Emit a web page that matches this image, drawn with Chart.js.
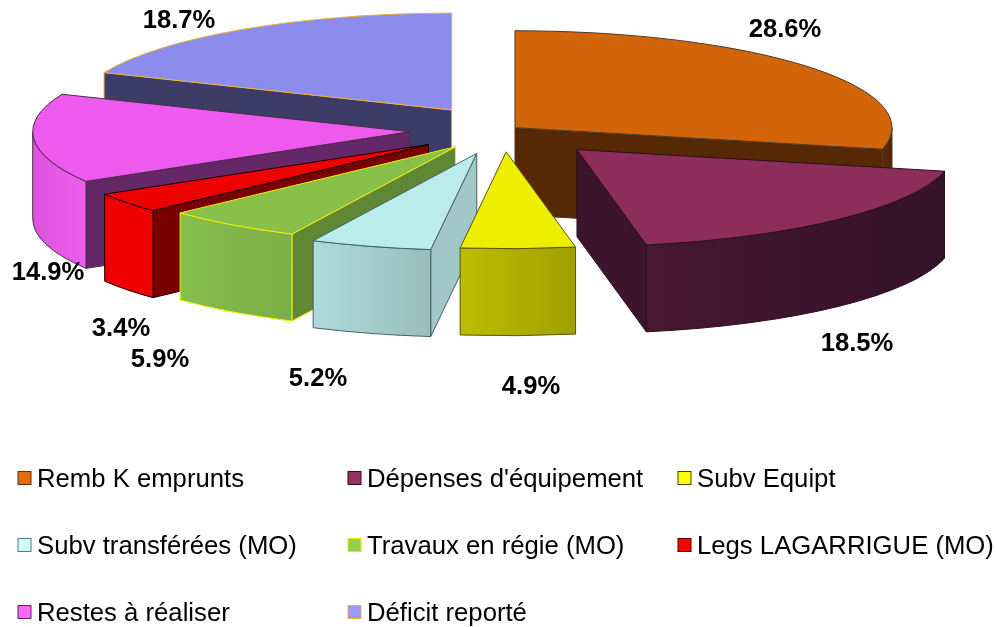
<!DOCTYPE html>
<html>
<head>
<meta charset="utf-8">
<title>Répartition</title>
<script src="https://cdn.jsdelivr.net/npm/chart.js@4/dist/chart.umd.js"></script>
<style>
  html, body { margin: 0; padding: 0; background: #fff; }
  canvas { display: block; }
</style>
</head>
<body>
<canvas id="myChart" width="997" height="627"></canvas>
<script>
const categories = ['Remb K emprunts', "Dépenses d'équipement", 'Subv Equipt', 'Subv transférées (MO)',
  'Travaux en régie (MO)', 'Legs LAGARRIGUE (MO)', 'Restes à réaliser', 'Déficit reporté'];
const values = [28.6, 18.5, 4.9, 5.2, 5.9, 3.4, 14.9, 18.7];

// slice styles
const explode = [14.7, 106, 85, 95, 81, 94, 94, 93.5];
const topColors = ['#D2640A', '#8C2D5C', '#EEEE00', '#BAECEC', '#88C04A', '#EE0000', '#EE5AEE', '#8C8CEC'];
const sideColors = ['#562804', '#3C142C', '#A0A000', '#A1C7C9', '#5F8734', '#780000', '#642868', '#3C3C66'];
const wallFrom = ['#5C2B05', '#47182F', '#BDBD00', '#AFDADA', '#85BF4C', '#EE0000', '#DC55DE', '#3C3C66'];
const wallTo = ['#502504', '#33122A', '#A0A000', '#98BDBD', '#7CAE45', '#EE0000', '#EE5CEE', '#3C3C66'];
const borders = ['#4A3A2A', '#2A0F20', '#55550A', '#4A5F60', '#F2F200', '#1A0000', '#4A2A4A', '#EBB23C'];
const legendColors = ['#E46C0A', '#953060', '#FFFF00', '#CCFFFF', '#92D050', '#FF0000', '#FF66FF', '#9999FF'];
const legendBorders = ['#5A3010', '#301020', '#444400', '#607878', '#E8E800', '#500000', '#503050', '#EBB23C'];

// back to front
const drawOrder = [7, 0, 6, 5, 4, 1, 3, 2];

// label centres
const labelX = [785, 857, 531, 318, 160, 121, 48, 179];
const labelY = [30, 344, 387, 379, 360, 329, 273, 21];

const squash = 0.257;
const depth = 87;
const font = '"Liberation Sans", Arial, sans-serif';

const pie3d = {
  id: 'pie3d',
  beforeDatasetDraw(chart, args) {
    const ctx = chart.ctx;
    const arcs = args.meta.data;
    ctx.save();
    ctx.lineWidth = 1;
    ctx.lineJoin = 'round';
    drawOrder.forEach(function (i) {
      drawSlice(ctx, arcs[i], i);
    });
    ctx.restore();
    return false;
  },
  afterDraw(chart) {
    const ctx = chart.ctx;
    ctx.save();
    ctx.fillStyle = '#000';
    ctx.textBaseline = 'middle';
    ctx.textAlign = 'center';
    ctx.font = 'bold 25.6px ' + font;
    values.forEach(function (v, i) {
      ctx.fillText(v.toFixed(1) + '%', labelX[i], labelY[i]);
    });
    ctx.textAlign = 'left';
    ctx.font = '25.7px ' + font;
    categories.forEach(function (name, i) {
      const col = i % 3, row = Math.floor(i / 3);
      const x = 18 + col * 330, y = 478 + row * 67;
      ctx.fillStyle = legendColors[i];
      ctx.fillRect(x, y - 6.5, 13, 13);
      ctx.strokeStyle = legendBorders[i];
      ctx.lineWidth = 1;
      ctx.strokeRect(x, y - 6.5, 13, 13);
      ctx.fillStyle = '#000';
      ctx.fillText(name, x + 19, y + 2);
    });
    ctx.restore();
  }
};

function drawSlice(ctx, arc, i) {
  const r = arc.outerRadius, ry = r * squash;
  const a0 = arc.startAngle, a1 = arc.endAngle, mid = (a0 + a1) / 2;
  const off = arc.options.offset;
  const ax = arc.x + Math.cos(mid) * off;
  const ay = arc.y + Math.sin(mid) * off * squash;
  const rim = function (a) {
    return { x: ax + Math.cos(a) * r, y: ay + Math.sin(a) * ry };
  };
  ctx.strokeStyle = borders[i];

  // radial side facing the viewer
  [[a0, Math.cos(a0) < -1e-6], [a1, Math.cos(a1) > 1e-6]].forEach(function (s) {
    if (!s[1]) return;
    const p = rim(s[0]);
    ctx.beginPath();
    ctx.moveTo(ax, ay);
    ctx.lineTo(p.x, p.y);
    ctx.lineTo(p.x, p.y + depth);
    ctx.lineTo(ax, ay + depth);
    ctx.closePath();
    ctx.fillStyle = sideColors[i];
    ctx.fill();
    ctx.stroke();
  });

  // outer wall, front half of the ellipse only
  const w0 = normFront(a0, a1);
  if (w0) {
    const pa = rim(w0[0]), pb = rim(w0[1]);
    const g = ctx.createLinearGradient(Math.min(pa.x, pb.x), 0, Math.max(pa.x, pb.x), 0);
    g.addColorStop(0, wallFrom[i]);
    g.addColorStop(1, wallTo[i]);
    ctx.beginPath();
    ctx.ellipse(ax, ay, r, ry, 0, w0[0], w0[1]);
    ctx.lineTo(pb.x, pb.y + depth);
    ctx.ellipse(ax, ay + depth, r, ry, 0, w0[1], w0[0], true);
    ctx.closePath();
    ctx.fillStyle = g;
    ctx.fill();
    ctx.stroke();
  }

  // top face
  ctx.beginPath();
  ctx.moveTo(ax, ay);
  ctx.ellipse(ax, ay, r, ry, 0, a0, a1);
  ctx.closePath();
  ctx.fillStyle = topColors[i];
  ctx.fill();
  ctx.stroke();
}

// part of the angle range that lies on the near side (0..PI), or null
function normFront(a0, a1) {
  const TAU = Math.PI * 2;
  for (let k = -1; k <= 1; k++) {
    const lo = Math.max(a0, k * TAU), hi = Math.min(a1, k * TAU + Math.PI);
    if (hi > lo + 1e-6) return [lo, hi];
  }
  return null;
}

new Chart(document.getElementById('myChart'), {
  type: 'pie',
  data: {
    labels: categories,
    datasets: [{ data: values, offset: explode, backgroundColor: topColors, borderColor: borders, borderWidth: 1 }]
  },
  options: {
    responsive: false,
    animation: false,
    events: [],
    radius: 377,
    layout: { padding: { left: 10, right: 0, top: 0, bottom: 367 } },
    plugins: { legend: { display: false }, tooltip: { enabled: false } }
  },
  plugins: [pie3d]
});
</script>
</body>
</html>
